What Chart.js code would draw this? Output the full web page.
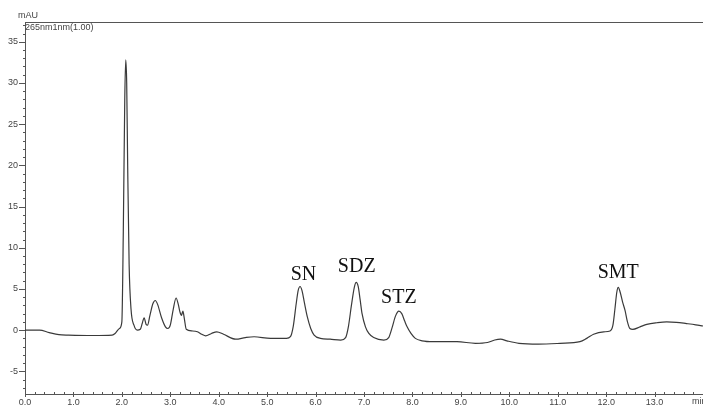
<!DOCTYPE html>
<html>
<head>
<meta charset="utf-8">
<title>Chromatogram 265nm</title>
<script src="https://cdn.jsdelivr.net/npm/chart.js@4.4.1/dist/chart.umd.min.js"></script>
<style>
  html, body { margin: 0; padding: 0; background: #fff; }
  #wrap { width: 703px; height: 407px; }
</style>
</head>
<body>
<div id="wrap"><canvas id="chrom" width="703" height="407"></canvas></div>
<script>
// retention time (min) and detector response (mAU)
const retTime = [
  0.00, 0.30, 0.50, 0.70, 0.90, 1.40, 1.80, 1.86, 1.95, 2.00,
  2.03, 2.06, 2.08, 2.10, 2.12, 2.15, 2.19, 2.25, 2.32, 2.38,
  2.42, 2.46, 2.50, 2.53, 2.58, 2.64, 2.69, 2.74, 2.82, 2.90,
  2.95, 3.00, 3.06, 3.12, 3.17, 3.20, 3.23, 3.26, 3.29, 3.33,
  3.45, 3.56, 3.65, 3.73, 3.85, 3.96, 4.10, 4.35, 4.55, 4.73,
  5.07, 5.40, 5.48, 5.54, 5.60, 5.64, 5.68, 5.72, 5.77, 5.83,
  5.90, 5.97, 6.10, 6.30, 6.52, 6.62, 6.68, 6.74, 6.80, 6.84,
  6.88, 6.92, 6.96, 7.03, 7.10, 7.20, 7.41, 7.51, 7.58, 7.65,
  7.72, 7.78, 7.84, 7.89, 7.97, 8.06, 8.20, 8.43, 8.92, 9.30,
  9.55, 9.70, 9.82, 9.95, 10.20, 10.60, 11.05, 11.46, 11.60, 11.74,
  11.95, 12.08, 12.14, 12.18, 12.22, 12.25, 12.29, 12.34, 12.39, 12.44,
  12.49, 12.55, 12.70, 12.84, 13.05, 13.25, 13.45, 13.66, 13.85, 14.00
];
const absorbance = [
  0.0, 0.0, -0.3, -0.55, -0.6, -0.65, -0.6, -0.4, 0.2, 1.0,
  12.0, 28.0, 32.8, 30.0, 20.0, 8.0, 2.5, 0.6, 0.0, 0.1,
  0.8, 1.5, 0.7, 0.6, 1.8, 3.2, 3.6, 3.1, 1.5, 0.4,
  0.2, 0.6, 2.5, 3.9, 3.0, 2.2, 1.8, 2.3, 1.4, 0.1,
  -0.1, -0.2, -0.5, -0.7, -0.4, -0.2, -0.5, -1.1, -0.9, -0.8,
  -1.0, -1.0, -0.8, 0.5, 3.2, 4.8, 5.3, 4.8, 3.3, 1.6,
  0.2, -0.6, -1.0, -1.1, -1.2, -0.9, 0.5, 3.0, 5.2, 5.8,
  5.3, 3.7, 2.0, 0.4, -0.4, -0.9, -1.2, -0.9, 0.3, 1.7,
  2.3, 2.0, 1.1, 0.4, -0.4, -1.0, -1.3, -1.4, -1.4, -1.6,
  -1.5, -1.2, -1.1, -1.3, -1.6, -1.7, -1.6, -1.4, -1.0, -0.5,
  -0.2, -0.1, 0.6, 2.5, 4.6, 5.2, 4.6, 3.4, 2.4, 1.0,
  0.2, 0.1, 0.4, 0.7, 0.9, 1.0, 0.95, 0.8, 0.65, 0.5
];

// identified compounds
const peakNames = ['SN', 'SDZ', 'STZ', 'SMT'];
const peakTimes = [5.75, 6.85, 7.72, 12.25];
const peakLabelLevel = [6.1, 7.0, 3.3, 6.3];

const yMin = -7.75, yMax = 37.4;
const xMin = 0, xMax = 14;

const points = retTime.map((t, i) => ({ x: t, y: absorbance[i] }));

const axisColor = '#555';

const decorPlugin = {
  id: 'decor',
  afterDraw(chart) {
    const { ctx, chartArea: a, scales } = chart;
    const xs = scales.x, ys = scales.y;
    ctx.save();
    ctx.strokeStyle = axisColor;
    ctx.lineWidth = 1;

    // frame top
    ctx.beginPath();
    ctx.moveTo(a.left, a.top + 0.5);
    ctx.lineTo(a.right, a.top + 0.5);
    ctx.stroke();

    // y ticks, major every 5, minor every 1
    ctx.beginPath();
    for (let v = Math.ceil(yMin); v <= yMax; v++) {
      const py = Math.round(ys.getPixelForValue(v)) + 0.5;
      const len = v % 5 === 0 ? 6 : 2;
      ctx.moveTo(a.left - len, py);
      ctx.lineTo(a.left, py);
    }
    // x ticks, major every 1, minor every 0.2
    for (let k = 0; k < xMax * 5; k++) {
      const px = Math.round(xs.getPixelForValue(k / 5)) + 0.5;
      if (k % 5 === 0) {
        ctx.moveTo(px, a.bottom - 2);
        ctx.lineTo(px, a.bottom + 3);
      } else {
        ctx.moveTo(px, a.bottom - 2);
        ctx.lineTo(px, a.bottom);
      }
    }
    ctx.stroke();

    // axis captions
    ctx.fillStyle = '#444';
    ctx.font = '9px "Liberation Sans", Arial, sans-serif';
    ctx.textBaseline = 'alphabetic';
    ctx.textAlign = 'left';
    ctx.fillText('mAU', 18, 18);
    ctx.fillText('265nm1nm(1.00)', 25, 30);
    ctx.fillText('min', 692, 404);

    // compound names above peaks
    ctx.fillStyle = '#111';
    ctx.font = '20px "Liberation Serif", "DejaVu Serif", serif';
    ctx.textAlign = 'center';
    peakNames.forEach((name, i) => {
      ctx.fillText(name, xs.getPixelForValue(peakTimes[i]), ys.getPixelForValue(peakLabelLevel[i]));
    });
    ctx.restore();
  }
};

new Chart(document.getElementById('chrom'), {
  type: 'line',
  data: {
    datasets: [{
      data: points,
      borderColor: '#3a3a3a',
      borderWidth: 1.2,
      pointRadius: 0,
      fill: false,
      cubicInterpolationMode: 'monotone'
    }]
  },
  options: {
    responsive: false,
    animation: false,
    layout: { padding: { top: 22, right: 0, left: 0, bottom: 0 } },
    plugins: { legend: { display: false }, tooltip: { enabled: false } },
    scales: {
      x: {
        type: 'linear',
        min: xMin,
        max: xMax,
        afterFit(scale) { scale.height = 13; },
        grid: { display: false, drawTicks: false },
        border: { display: true, color: axisColor, width: 1 },
        ticks: {
          stepSize: 1,
          includeBounds: false,
          maxRotation: 0,
          autoSkip: false,
          padding: 3,
          color: '#444',
          font: { size: 9, family: '"Liberation Sans", Arial, sans-serif' },
          callback: v => (v >= xMax ? null : v.toFixed(1))
        }
      },
      y: {
        type: 'linear',
        min: yMin,
        max: yMax,
        afterFit(scale) { scale.width = 25; },
        grid: { display: false, drawTicks: false },
        border: { display: true, color: axisColor, width: 1 },
        ticks: {
          stepSize: 5,
          includeBounds: false,
          padding: 7,
          color: '#444',
          font: { size: 9, family: '"Liberation Sans", Arial, sans-serif' },
          callback: v => String(v)
        }
      }
    }
  },
  plugins: [decorPlugin]
});
</script>
</body>
</html>
